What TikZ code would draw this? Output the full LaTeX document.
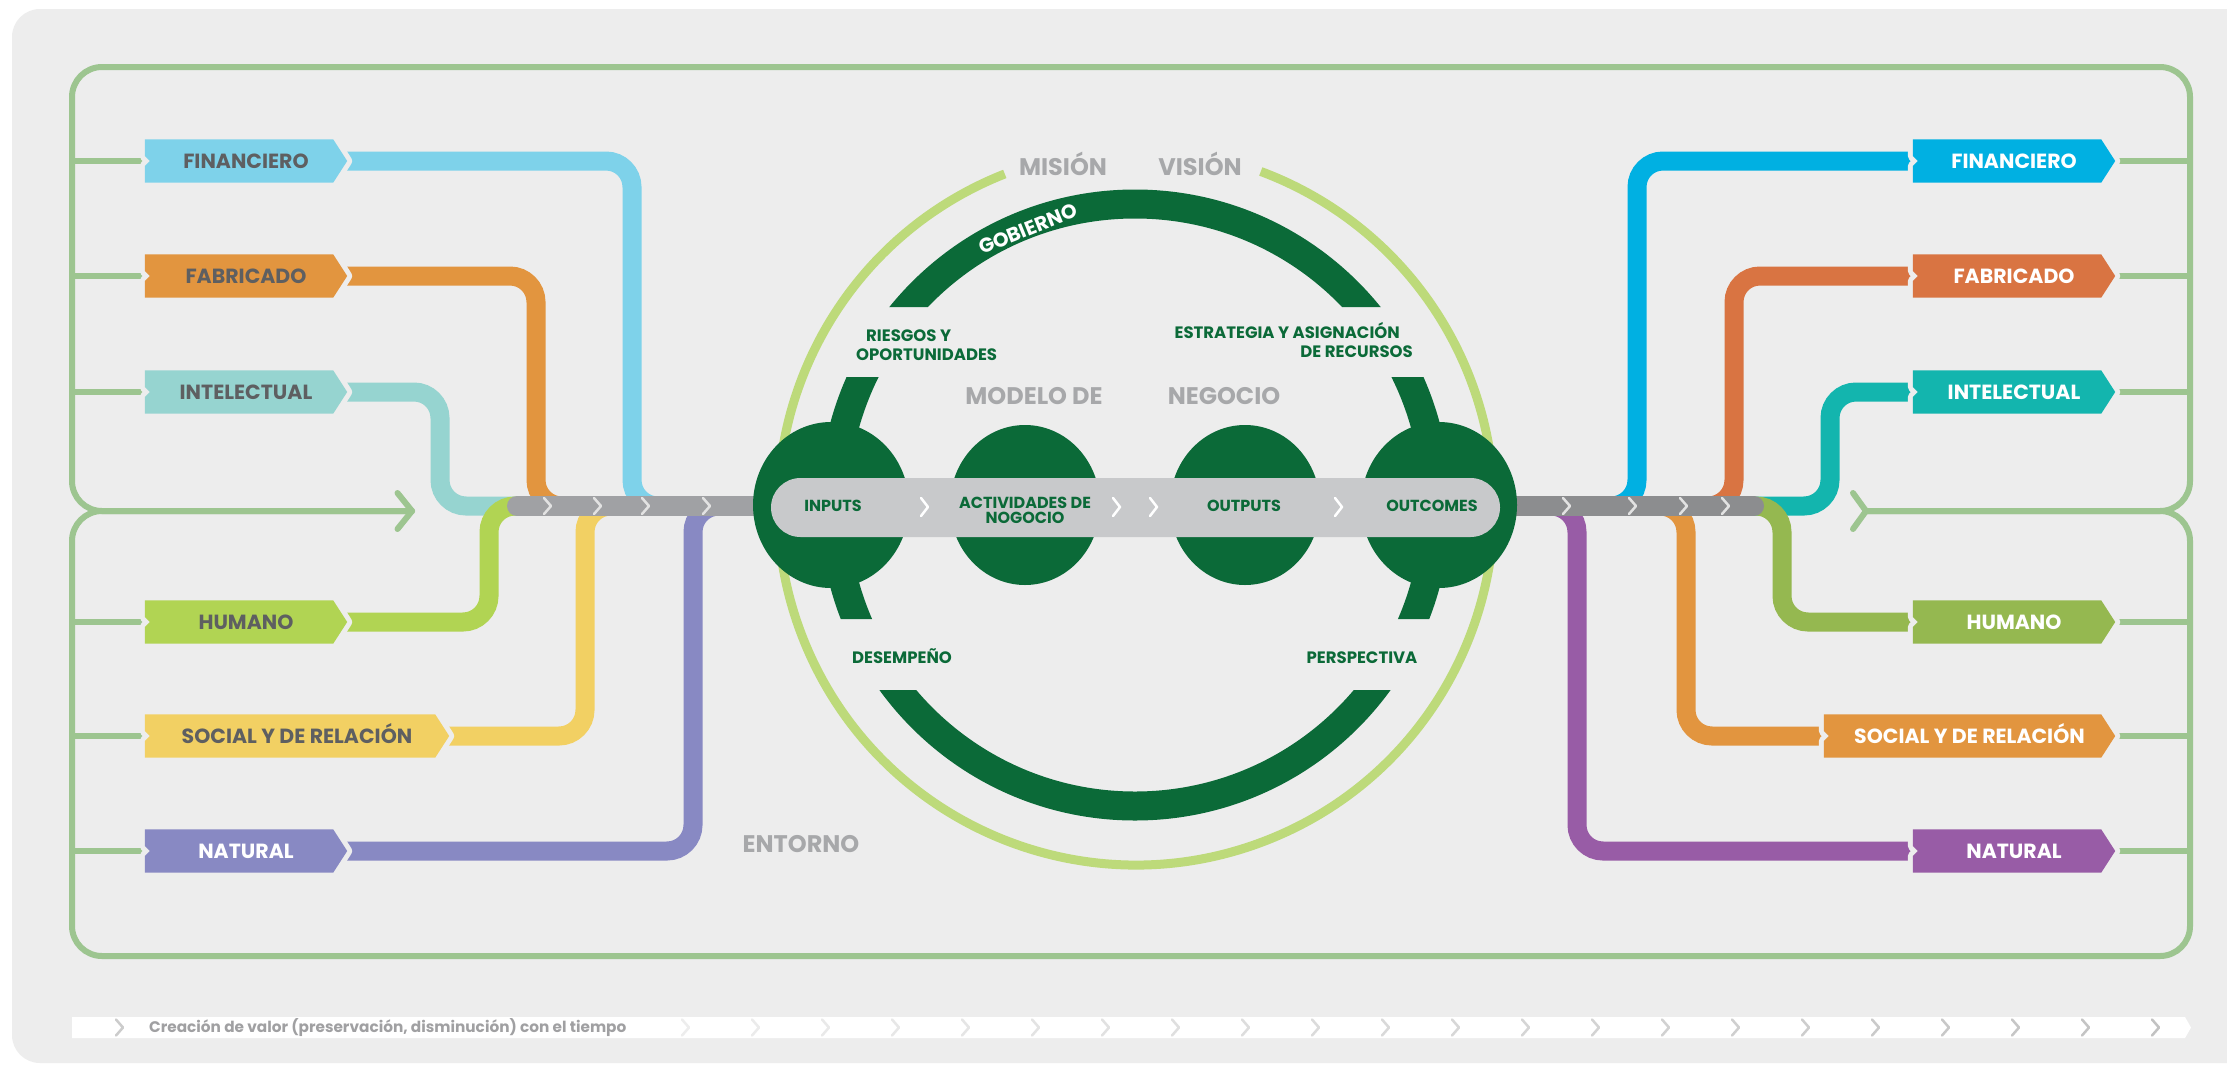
\documentclass[tikz,border=0pt]{standalone}
\usepackage{fontspec}
\setmainfont{Poppins}
\usetikzlibrary{calc}

\definecolor{panel}{HTML}{EDEDED}
\definecolor{frameg}{HTML}{9DC590}
\definecolor{ringg}{HTML}{BDDA7A}
\definecolor{dkgreen}{HTML}{0B6A38}
\definecolor{labgray}{HTML}{A7A8AA}
\definecolor{tagtext}{HTML}{5E5F61}
\definecolor{tlgray}{HTML}{A0A0A2}
\definecolor{barL}{HTML}{A0A1A4}
\definecolor{barR}{HTML}{8C8D8F}
\definecolor{pillg}{HTML}{C8C9CB}
\definecolor{chevg}{HTML}{E2E2E2}
\definecolor{finLc}{HTML}{7ED2EA}
\definecolor{fabLc}{HTML}{E2953F}
\definecolor{intLc}{HTML}{96D4D0}
\definecolor{humLc}{HTML}{B1D453}
\definecolor{socLc}{HTML}{F2D063}
\definecolor{natLc}{HTML}{8889C3}
\definecolor{finRc}{HTML}{00B0E2}
\definecolor{fabRc}{HTML}{D97442}
\definecolor{intRc}{HTML}{13B5AE}
\definecolor{humRc}{HTML}{95B850}
\definecolor{socRc}{HTML}{E2953F}
\definecolor{natRc}{HTML}{985CA6}

\pgfdeclarelayer{background}
\pgfsetlayers{background,main}

\tikzset{
  frame/.style={draw=frameg, line width=6pt, line cap=round},
  conn/.style={line width=19pt, rounded corners=26pt},
  tagfill/.style={fill=#1, preaction={draw=panel, line width=10pt, line join=round}},
  tagbox/.style={inner sep=0pt, minimum height=43pt, text height=14.5pt, text depth=0pt,
    font=\bfseries\fontsize{20.5}{20.5}\selectfont},
  chev/.style={draw=#1, line width=2.5pt, line cap=round, line join=round},
  graytitle/.style={inner sep=0pt, text height=17pt, text depth=0pt, text=labgray,
    font=\bfseries\fontsize{24}{24}\selectfont},
  dklabel/.style={inner sep=0pt, text=dkgreen, font=\bfseries\fontsize{16.5}{19}\selectfont},
  pilllabel/.style={inner sep=0pt, text=dkgreen, font=\bfseries\fontsize{16}{15}\selectfont},
}

\begin{document}
\begin{tikzpicture}[x=1pt, y=-1pt]
  \useasboundingbox (0,0) rectangle (2227,1066);

  % capitals, left
  \node[tagbox, minimum width=202pt, text=tagtext] (finL) at (246,161) {FINANCIERO};
  \node[tagbox, minimum width=202pt, text=tagtext] (fabL) at (246,276) {FABRICADO};
  \node[tagbox, minimum width=202pt, text=tagtext] (intL) at (246,392) {INTELECTUAL};
  \node[tagbox, minimum width=202pt, text=tagtext] (humL) at (246,622) {HUMANO};
  \node[tagbox, minimum width=304pt, text=tagtext] (socL) at (297,736) {SOCIAL Y DE RELACIÓN};
  \node[tagbox, minimum width=202pt, text=white] (natL) at (246,851) {NATURAL};
  % capitals, right
  \node[tagbox, minimum width=202pt, text=white] (finR) at (2014,161) {FINANCIERO};
  \node[tagbox, minimum width=202pt, text=white] (fabR) at (2014,276) {FABRICADO};
  \node[tagbox, minimum width=202pt, text=white] (intR) at (2014,392) {INTELECTUAL};
  \node[tagbox, minimum width=202pt, text=white] (humR) at (2014,622) {HUMANO};
  \node[tagbox, minimum width=291pt, text=white] (socR) at (1969.5,736) {SOCIAL Y DE RELACIÓN};
  \node[tagbox, minimum width=202pt, text=white] (natR) at (2014,851) {NATURAL};

  % centre labels
  \node[graytitle] (mision) at (1063,167) {MISIÓN};
  \node[graytitle] (vision) at (1200,167) {VISIÓN};
  \node[graytitle] (modelo) at (1034,396) {MODELO DE};
  \node[graytitle] (negocio) at (1224,396) {NEGOCIO};
  \node[graytitle] (entorno) at (801,844) {ENTORNO};
  \node[inner sep=0pt, text height=13.5pt, text depth=0pt, text=white, rotate=22,
    font=\bfseries\fontsize{20}{20}\selectfont] (gob) at (1028,229) {GOBIERNO};
  \node[dklabel, align=left, anchor=north west] (riesgos) at (856,330) {\hspace*{10pt}RIESGOS Y\\OPORTUNIDADES};
  \node[dklabel, align=right, anchor=south east] (estrat) at (1413,358) {ESTRATEGIA Y ASIGNACIÓN\hspace*{13pt}\\DE RECURSOS};
  \node[dklabel, text height=11.7pt, text depth=0pt] (desemp) at (902,658) {DESEMPEÑO};
  \node[dklabel, text height=11.7pt, text depth=0pt] (persp) at (1362,658) {PERSPECTIVA};
  \node[pilllabel, text height=11.5pt, text depth=0pt] (inputs) at (833,506) {INPUTS};
  \node[pilllabel, align=center, anchor=south] (activ) at (1025,524) {ACTIVIDADES DE\\NOGOCIO};
  \node[pilllabel, text height=11.5pt, text depth=0pt] (outputs) at (1244,506) {OUTPUTS};
  \node[pilllabel, text height=11.5pt, text depth=0pt] (outcomes) at (1432,506) {OUTCOMES};
  \node[inner sep=0pt, anchor=base west, text=tlgray,
    font=\bfseries\fontsize{15.3}{15.3}\selectfont] (tiempo) at (149,1032)
    {Creación de valor (preservación, disminución) con el tiempo};

  \coordinate (frL) at (72,0);
  \coordinate (frR) at (2190,0);
  \coordinate (ringc) at (1136,507);
  \coordinate (gobc) at (1135,505);

  \begin{pgfonlayer}{background}
    \fill[white] (0,0) rectangle (2227,1066);
    \fill[panel, rounded corners=28pt] (12,9) rectangle (2290,1063);

    % outer frame
    \draw[frame, rounded corners=30pt] (412,511) -- (72,511) -- (72,67) -- (2190,67) -- (2190,511) -- (1866,511);
    \draw[frame, rounded corners=30pt] (412,511) -- (72,511) -- (72,956) -- (2190,956) -- (2190,511) -- (1866,511);
    \draw[frame, line join=round] (397.5,493) -- (412,511) -- (397.5,529);
    \draw[frame, line join=round] (1853,493) -- (1866,511) -- (1853,529);
    \foreach \n in {finL,fabL,intL,humL,socL,natL}
      \draw[frame, line cap=butt] (\n.west -| frL) -- (\n.west);
    \foreach \n in {finR,fabR,intR,humR,socR,natR}
      \draw[frame, line cap=butt] (\n.east) -- (\n.east -| frR);

    % time line
    \fill[white] (72,1017) -- (2185,1017) -- (2191,1027.5) -- (2185,1038) -- (72,1038) -- cycle;
    \draw[chev=black!20] (116,1019.5) -- (123,1027.5) -- (116,1035.5);
    \foreach \k in {0,...,21} {
      \pgfmathsetmacro\sh{7+0.8*\k}
      \draw[chev=black!\sh] ({682+70*\k},1019.5) -- ({689+70*\k},1027.5) -- ({682+70*\k},1035.5);
    }

    % connectors, left
    \draw[conn, finLc] (finL.center) -| (632,506) -- +(60,0);
    \draw[conn, fabLc] (fabL.center) -| (536,506) -- +(60,0);
    \draw[conn, intLc] (intL.center) -| (440,506) -- +(110,0);
    \draw[conn, humLc] (humL.center) -| (489,506) -- +(60,0);
    \draw[conn, socLc] (socL.center) -| (585,506) -- +(60,0);
    \draw[conn, natLc] (natL.center) -| (693,506) -- +(60,0);
    % connectors, right
    \draw[conn, natRc] (natR.center) -| (1577,506) -- +(-60,0);
    \draw[conn, finRc] (finR.center) -| (1637,506) -- +(-60,0);
    \draw[conn, socRc] (socR.center) -| (1686,506) -- +(-60,0);
    \draw[conn, fabRc] (fabR.center) -| (1734,506) -- +(-60,0);
    \draw[conn, intRc] (intR.center) -| (1830,506) -- +(-90,0);
    \draw[conn, humRc] (humR.center) -| (1782,506) -- +(-40,0);

    % capital tags
    \foreach \n/\c in {finL/finLc,fabL/fabLc,intL/intLc,humL/humLc,socL/socLc,natL/natLc,
                       finR/finRc,fabR/fabRc,intR/intRc,humR/humRc,socR/socRc,natR/natRc}
      \path[tagfill=\c] (\n.north west) -- ($(\n.north east)+(-14,0)$) -- (\n.east)
        -- ($(\n.south east)+(-14,0)$) -- (\n.south west) -- ($(\n.west)+(0,5)$)
        -- ($(\n.west)+(5,0)$) -- ($(\n.west)+(0,-5)$) -- cycle;

    % outer ring
    \draw[ringg, line width=9pt] ($(ringc)+(248.5:358)$) arc[start angle=248.5, end angle=-69.6, radius=358];

    % governance ring
    \begin{scope}
      \clip (0,0) rectangle (2227,307) (0,377) rectangle (2227,619) (0,690) rectangle (2227,1066);
      \draw[dkgreen, line width=29pt] (gobc) circle (301);
    \end{scope}

    % bars
    \draw[barL, line width=20pt, line cap=round] (517,506) -- (790,506);
    \draw[barR, line width=20pt, line cap=round] (1480,506) -- (1754,506);
    \foreach \x in {547,597,645,706,1566,1632,1683,1725}
      \draw[chev=chevg] (\x-3,498) -- (\x+4,506) -- (\x-3,514);

    % business model
    \fill[dkgreen] (831,505) ellipse [x radius=78, y radius=83];
    \fill[dkgreen] (1025,505) ellipse [x radius=75, y radius=80];
    \fill[dkgreen] (1245,505) ellipse [x radius=75, y radius=80];
    \fill[dkgreen] (1439,505) ellipse [x radius=78, y radius=83];
    \fill[pillg, rounded corners=29.5pt] (771,478) rectangle (1500,537);
    \foreach \x in {924,1116,1153,1338}
      \draw[chev=white] (\x-3,498) -- (\x+4,507) -- (\x-3,516);
  \end{pgfonlayer}
\end{tikzpicture}
\end{document}
